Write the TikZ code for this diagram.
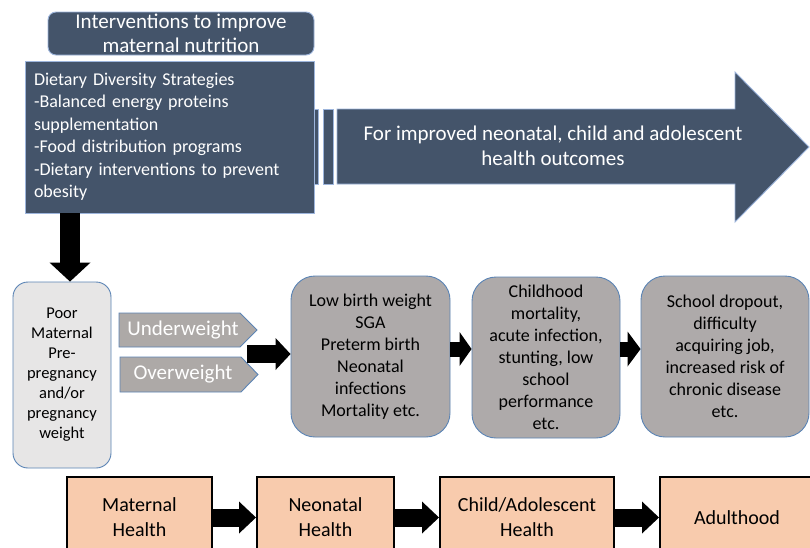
\documentclass[tikz,border=0pt]{standalone}
\usepackage{fontspec}
\setmainfont{Carlito}
\usetikzlibrary{arrows.meta,calc}
\definecolor{slate}{HTML}{44546A}
\definecolor{lblue}{HTML}{9DB5DC}
\definecolor{bord}{HTML}{5B84B5}
\definecolor{gbox}{HTML}{AEAAAA}
\definecolor{lgray}{HTML}{E7E6E6}
\definecolor{peach}{HTML}{F8CBAD}
\definecolor{pentgray}{HTML}{ADA9A7}
\tikzset{
  darkbox/.style={fill=slate, draw=lblue, line width=0.9pt, text=white},
  rgray/.style={fill=gbox, draw=bord, line width=0.9pt, rounded corners=24pt,
    align=center, font=\fontsize{18}{22}\selectfont, inner sep=0pt},
  peachbox/.style={fill=peach, draw=black, line width=2pt, align=center,
    font=\fontsize{20}{25}\selectfont, inner sep=0pt},
  pentshape/.style={fill=pentgray, draw=bord, line width=0.9pt},
  penttext/.style={text=white, font=\fontsize{21}{22}\selectfont, inner sep=0pt},
  blockarrow/.style n args={3}{draw=black, line width=#1,
    -{Triangle[length=#2, width=#3, line width=0pt]}}
}
\begin{document}
\begin{tikzpicture}[x=1pt,y=-1pt]
\useasboundingbox[fill=white] (0,0) rectangle (810,547);
% big arrow
\filldraw[fill=slate, draw=lblue, line width=0.9pt]
  (313,109) rectangle (318,184);
\filldraw[fill=slate, draw=lblue, line width=0.9pt]
  (323,109) rectangle (333,184);
\filldraw[fill=slate, draw=lblue, line width=0.9pt]
  (337,109) -- (735,109) -- (735,72) -- (809,147) -- (735,222) -- (735,184) -- (337,184) -- cycle;
\node[text=white, align=center, font=\fontsize{21}{25}\selectfont, inner sep=0pt]
  (bigtxt) at (553,145.5) {For improved neonatal, child and adolescent\\health outcomes};
% header and dietary box
\node[darkbox, rounded corners=8pt, minimum width=266pt, minimum height=43pt,
  align=center, font=\fontsize{21}{24}\selectfont, inner sep=0pt]
  (head) at (181,33.5) {Interventions to improve\\maternal nutrition};
\node[darkbox, minimum width=289pt, minimum height=152pt, text width=271pt,
  inner xsep=9pt, inner ysep=0pt, align=left, font=\fontsize{18}{22.5}\selectfont]
  (diet) at (169.5,137) {Dietary Diversity Strategies\\-Balanced energy proteins\\supplementation\\-Food distribution programs\\-Dietary interventions to prevent\\obesity};
% poor maternal box
\node[fill=lgray, draw=bord, line width=0.9pt, rounded corners=15pt,
  minimum width=98pt, minimum height=186pt, align=center, inner sep=0pt,
  font=\fontsize{16.5}{20}\selectfont]
  (poor) at (62,375) {Poor\\Maternal\\Pre-\\pregnancy\\and/or\\pregnancy\\weight};
\coordinate (dax) at (70,0);
\draw[blockarrow={20pt}{19pt}{41pt}] (diet.south -| dax) -- (poor.north -| dax);
% pentagons
\draw[pentshape] (119,313) -- (240,313) -- (257,330) -- (240,347) -- (119,347) -- cycle;
\node[penttext] (under) at (183,330) {Underweight};
\draw[pentshape] (120,357) -- (241,357) -- (258,374.5) -- (241,392) -- (120,392) -- cycle;
\node[penttext] (over) at (183,374.5) {Overweight};
% outcome boxes
\node[rgray, minimum width=159pt, minimum height=161pt]
  (lbw) at (370.5,356.5) {Low birth weight\\SGA\\Preterm birth\\Neonatal\\infections\\Mortality etc.};
\node[rgray, minimum width=148pt, minimum height=161pt]
  (child) at (546,357.5) {Childhood\\mortality,\\acute infection,\\stunting, low\\school\\performance\\etc.};
\node[rgray, minimum width=168pt, minimum height=161pt]
  (school) at (725,356.5) {School dropout,\\difficulty\\acquiring job,\\increased risk of\\chronic disease\\etc.};
\coordinate (uo) at (247,354);
\draw[blockarrow={18pt}{15pt}{32pt}] (uo) -- (uo -| lbw.west);
\coordinate (a2) at (450,349);
\draw[blockarrow={15pt}{12pt}{34pt}] (a2 -| lbw.east) -- (a2 -| child.west);
\draw[blockarrow={15pt}{13pt}{35pt}] (a2 -| child.east) -- (a2 -| school.west);
% bottom boxes
\node[peachbox, minimum width=145pt, minimum height=81pt] (mat) at (139.5,517.5) {Maternal\\Health};
\node[peachbox, minimum width=137pt, minimum height=81pt] (neo) at (325.5,517.5) {Neonatal\\Health};
\node[peachbox, minimum width=174pt, minimum height=81pt] (chi) at (527,517.5) {Child/Adolescent\\Health};
\node[peachbox, minimum width=154pt, minimum height=81pt] (adu) at (737,517.5) {Adulthood};
\draw[blockarrow={18pt}{17pt}{32pt}] (mat.east) -- (neo.west);
\draw[blockarrow={18pt}{17pt}{32pt}] (neo.east) -- (chi.west);
\draw[blockarrow={18pt}{17pt}{32pt}] (chi.east) -- (adu.west);
\end{tikzpicture}
\end{document}
